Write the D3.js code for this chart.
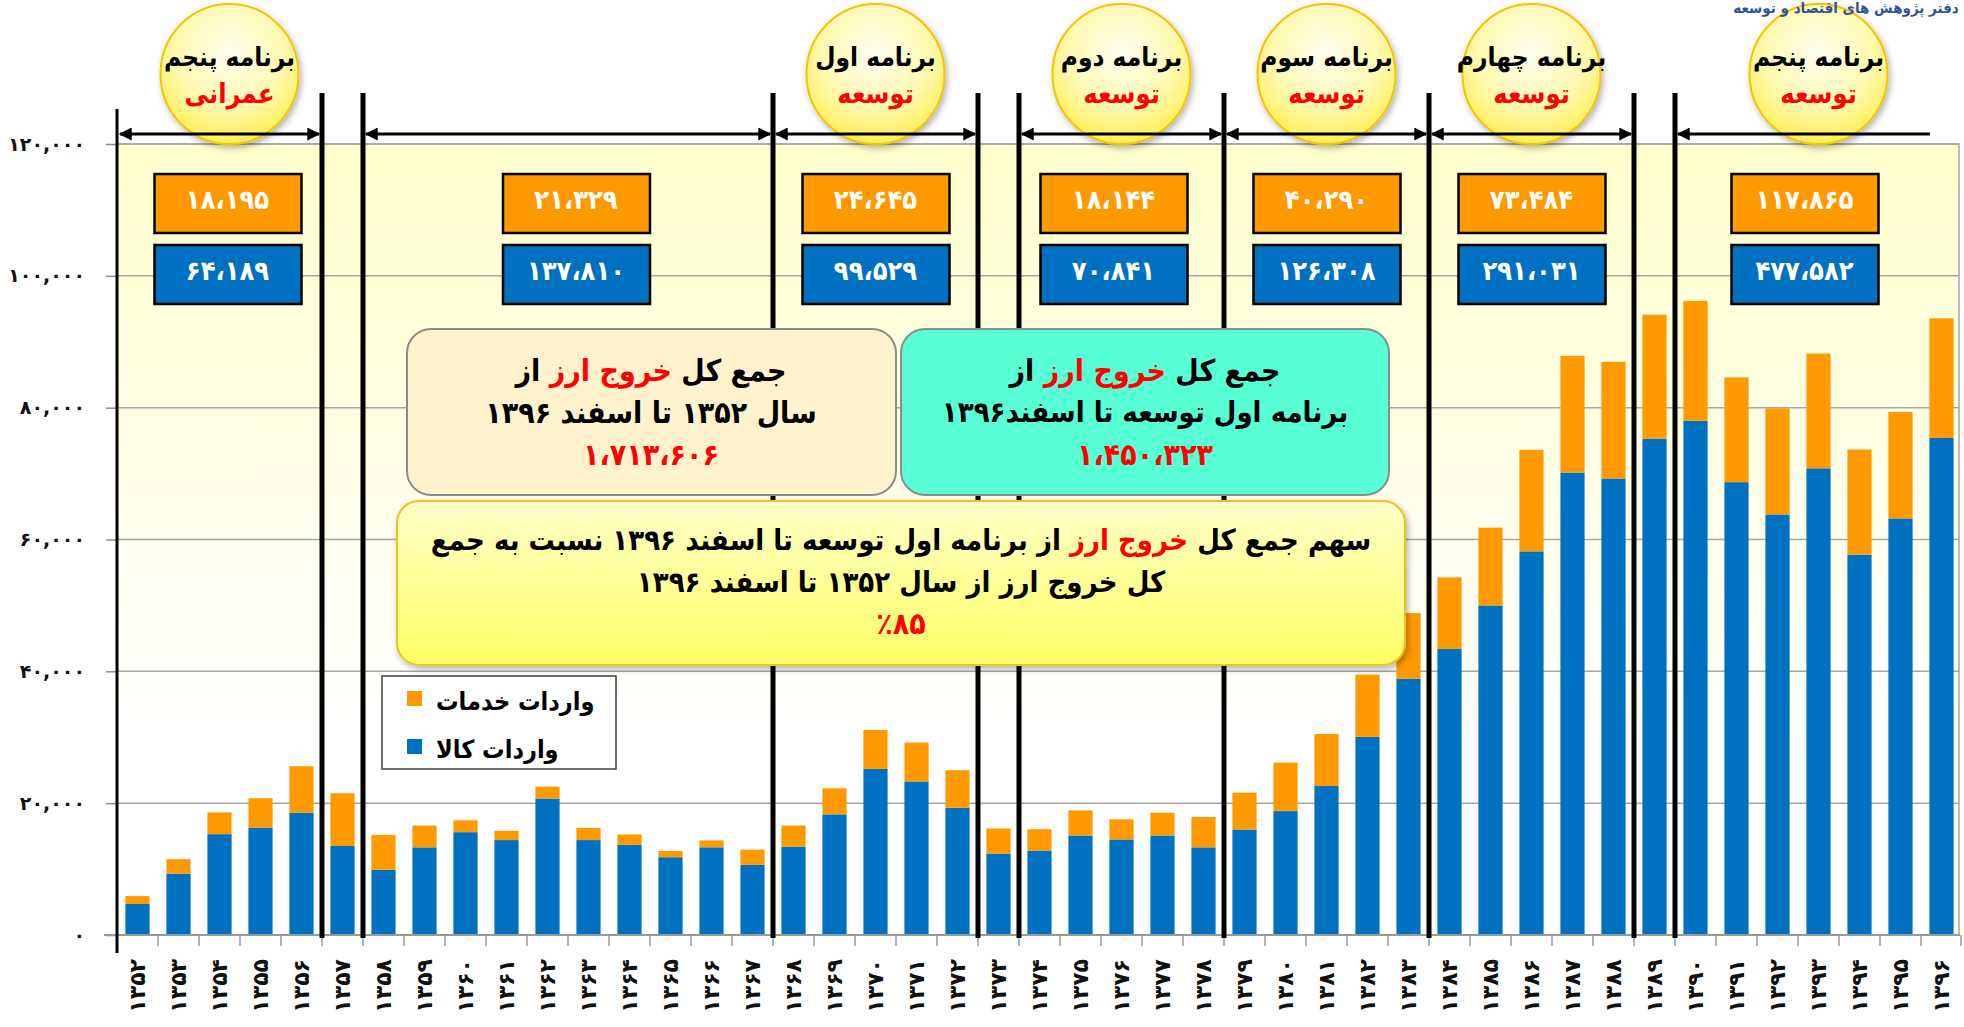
<!DOCTYPE html>
<html>
<head>
<meta charset="utf-8">
<script src="https://cdn.jsdelivr.net/npm/d3@7"></script>
<style>
  body { margin: 0; background: #fff; }
  svg { font-family: "DejaVu Sans Condensed", "DejaVu Sans", sans-serif; font-weight: bold; }
</style>
</head>
<body>
<svg width="1964" height="1027"></svg>
<script>
// years (x categories)
var years = [1352,1353,1354,1355,1356,1357,1358,1359,1360,1361,1362,1363,1364,1365,1366,1367,
  1368,1369,1370,1371,1372,1373,1374,1375,1376,1377,1378,1379,1380,1381,1382,1383,
  1384,1385,1386,1387,1388,1389,1390,1391,1392,1393,1394,1395,1396];

// imports of goods (blue) and services (orange), million $
var goods = [4700,9300,15300,16300,18550,13500,9900,13300,15600,14400,20700,14400,13700,11800,13300,10650,
  13400,18300,25200,23300,19300,12350,12800,15100,14500,15100,13300,16000,18800,22600,30050,38850,
  43400,50000,58200,70150,69250,75300,78000,68700,63800,70800,57700,63200,75400];
var services = [1200,2200,3300,4450,7050,8000,5300,3300,1800,1400,1800,1850,1550,950,1050,2300,
  3200,3950,5900,5900,5700,3800,3250,3800,3050,3450,4600,5600,7350,7900,9450,9990,
  10850,11800,15400,17700,17700,18800,18200,15900,16100,17400,15950,16150,18150];

var yTicks = [0, 20000, 40000, 60000, 80000, 100000, 120000];

// plan periods
var planStart = [1352, 1358, 1368, 1374, 1379, 1384, 1390];
var planEnd   = [1356, 1367, 1372, 1378, 1383, 1388, 1396];
var planName  = ["برنامه پنجم", "", "برنامه اول", "برنامه دوم", "برنامه سوم", "برنامه چهارم", "برنامه پنجم"];
var planKind  = ["عمرانی", "", "توسعه", "توسعه", "توسعه", "توسعه", "توسعه"];
var planGoods    = [64189, 137810, 99529, 70841, 126308, 291031, 477582];
var planServices = [18195, 21329, 24645, 18144, 40290, 73484, 117865];

var dividers = [1357, 1358, 1368, 1373, 1374, 1379, 1384, 1389, 1390];

var blue = "#0070c0", orange = "#ff9900";

var svg = d3.select("svg");

var x = d3.scaleBand().domain(years).range([117, 1962])
  .paddingInner(0.41).paddingOuter(0.205);
var y = d3.scaleLinear().domain([0, 120000]).range([935, 144]);

function fa(s) {
  return String(s).replace(/\d/g, function(d) { return "۰۱۲۳۴۵۶۷۸۹"[d]; });
}
// left edge of a year's slot
function edge(yr) { return x(yr) - x.step() * x.paddingInner() / 2; }
function planEdgeEnd(i) { return edge(planEnd[i]) + x.step(); }

var defs = svg.append("defs");
var bg = defs.append("linearGradient").attr("id", "bg").attr("x1", 0).attr("y1", 0).attr("x2", 0).attr("y2", 1);
bg.append("stop").attr("offset", "0%").attr("stop-color", "#ffffcc");
bg.append("stop").attr("offset", "75%").attr("stop-color", "#ffffff");

var sun = defs.append("radialGradient").attr("id", "sun").attr("cx", "50%").attr("cy", "35%").attr("r", "65%");
sun.append("stop").attr("offset", "0%").attr("stop-color", "#fffff0");
sun.append("stop").attr("offset", "60%").attr("stop-color", "#fff9b0");
sun.append("stop").attr("offset", "100%").attr("stop-color", "#ffee55");

var note = defs.append("linearGradient").attr("id", "note").attr("x1", 0).attr("y1", 0).attr("x2", 0).attr("y2", 1);
note.append("stop").attr("offset", "0%").attr("stop-color", "#ffffc8");
note.append("stop").attr("offset", "100%").attr("stop-color", "#ffff66");

var sh = defs.append("filter").attr("id", "shadow").attr("x", "-10%").attr("y", "-10%").attr("width", "130%").attr("height", "130%");
sh.append("feDropShadow").attr("dx", 2).attr("dy", 3).attr("stdDeviation", 3)
  .attr("flood-color", "#000").attr("flood-opacity", 0.3);

defs.append("marker").attr("id", "ah").attr("viewBox", "0 0 10 10")
  .attr("refX", 9).attr("refY", 5).attr("markerWidth", 15).attr("markerHeight", 13)
  .attr("markerUnits", "userSpaceOnUse").attr("orient", "auto-start-reverse")
  .append("path").attr("d", "M0,0 L10,5 L0,10 Z").attr("fill", "#000");

// plot background
svg.append("rect")
  .attr("x", 117).attr("y", y(120000))
  .attr("width", 1959 - 117).attr("height", y(0) - y(120000))
  .attr("fill", "url(#bg)").attr("stroke", "#a6a6a6").attr("stroke-width", 1.5);

// gridlines
svg.append("g").selectAll("line")
  .data(yTicks.filter(function(d) { return d > 0; }))
  .enter().append("line")
  .attr("x1", 117).attr("x2", 1959)
  .attr("y1", function(d) { return y(d); }).attr("y2", function(d) { return y(d); })
  .attr("stroke", "#a6a6a6").attr("stroke-width", 1.5);

// y axis
var yAxis = svg.append("g")
  .attr("transform", "translate(117,0)")
  .call(d3.axisLeft(y).tickValues(yTicks).tickSize(11).tickPadding(21)
    .tickFormat(function(d) { return fa(d3.format(",")(d)); }));
yAxis.select(".domain").remove();
yAxis.selectAll(".tick line").attr("stroke", "#8c8c8c").attr("stroke-width", 1.5);
yAxis.selectAll(".tick text")
  .attr("font-size", 19).attr("fill", "#111")
  .attr("font-family", "DejaVu Sans").attr("font-weight", "bold");

// bars
svg.append("g").selectAll("rect")
  .data(years).enter().append("rect")
  .attr("x", function(d) { return x(d); })
  .attr("width", x.bandwidth())
  .attr("y", function(d, i) { return y(goods[i]); })
  .attr("height", function(d, i) { return y(0) - y(goods[i]); })
  .attr("fill", blue);
svg.append("g").selectAll("rect")
  .data(years).enter().append("rect")
  .attr("x", function(d) { return x(d); })
  .attr("width", x.bandwidth())
  .attr("y", function(d, i) { return y(goods[i] + services[i]); })
  .attr("height", function(d, i) { return y(goods[i]) - y(goods[i] + services[i]); })
  .attr("fill", orange);

// x baseline and slot ticks
svg.append("line").attr("x1", 104).attr("x2", 1960)
  .attr("y1", y(0)).attr("y2", y(0))
  .attr("stroke", "#999").attr("stroke-width", 2);
svg.append("g").selectAll("line")
  .data(years.slice(1).concat([null])).enter().append("line")
  .attr("x1", function(d) { return d === null ? 1961 : edge(d); })
  .attr("x2", function(d) { return d === null ? 1961 : edge(d); })
  .attr("y1", y(0)).attr("y2", y(0) + 11)
  .attr("stroke", "#999").attr("stroke-width", 1.5);

// x labels
var xAxis = svg.append("g")
  .attr("transform", "translate(0," + y(0) + ")")
  .call(d3.axisBottom(x).tickSize(0).tickFormat(fa));
xAxis.select(".domain").remove();
xAxis.selectAll(".tick text")
  .attr("transform", "rotate(-90)")
  .attr("x", -24).attr("y", 0).attr("dy", "0.35em")
  .style("text-anchor", "end")
  .attr("font-size", 22).attr("letter-spacing", 1)
  .attr("fill", "#111").attr("font-family", "DejaVu Sans").attr("font-weight", "bold");

// y axis line
svg.append("line").attr("x1", 117).attr("x2", 117).attr("y1", 109).attr("y2", 953)
  .attr("stroke", "#000").attr("stroke-width", 3);

// plan dividers
svg.append("g").selectAll("line")
  .data(dividers).enter().append("line")
  .attr("x1", function(d) { return edge(d); }).attr("x2", function(d) { return edge(d); })
  .attr("y1", 93).attr("y2", 938)
  .attr("stroke", "#000").attr("stroke-width", 5);

// plan circles
var circ = svg.append("g").selectAll("g")
  .data(planStart.map(function(d, i) { return i; }).filter(function(i) { return planName[i]; }))
  .enter().append("g")
  .attr("transform", function(i) {
    var cx = (edge(planStart[i]) + planEdgeEnd(i)) / 2 + (i === 0 ? 10 : 0);
    return "translate(" + cx + ",74)";
  });
circ.append("ellipse").attr("rx", 69).attr("ry", 70)
  .attr("fill", "url(#sun)").attr("stroke", "#f5c400").attr("stroke-width", 2)
  .attr("filter", "url(#shadow)");
circ.append("text").attr("y", -17).attr("dy", "0.35em").attr("text-anchor", "middle")
  .attr("direction", "rtl").attr("font-size", 26).attr("fill", "#000")
  .text(function(i) { return planName[i]; });
circ.append("text").attr("y", 20).attr("dy", "0.35em").attr("text-anchor", "middle")
  .attr("direction", "rtl").attr("font-size", 27).attr("fill", "#ff0000")
  .text(function(i) { return planKind[i]; });

// arrows
svg.append("g").selectAll("line")
  .data(planStart.map(function(d, i) { return i; })).enter().append("line")
  .attr("x1", function(i) { return edge(planStart[i]) + 3; })
  .attr("x2", function(i) { return i === 6 ? 1930 : planEdgeEnd(i) - 3; })
  .attr("y1", 134).attr("y2", 134)
  .attr("stroke", "#000").attr("stroke-width", 3)
  .attr("marker-start", "url(#ah)")
  .attr("marker-end", function(i) { return i === 6 ? null : "url(#ah)"; });

// plan totals boxes
var fmt = function(v) { return fa(d3.format(",")(v).replace(/,/g, "،")); };
var boxes = svg.append("g").selectAll("g")
  .data(planStart.map(function(d, i) { return i; })).enter().append("g")
  .attr("transform", function(i) {
    var cx = (edge(planStart[i]) + planEdgeEnd(i)) / 2;
    var off = [8, 8, 0, -8, 0, 0, -14][i];
    return "translate(" + (cx + off) + ",0)";
  });
boxes.append("rect").attr("x", -73).attr("y", 174).attr("width", 147).attr("height", 59)
  .attr("fill", orange).attr("stroke", "#000").attr("stroke-width", 2.5);
boxes.append("rect").attr("x", -73).attr("y", 245).attr("width", 147).attr("height", 59)
  .attr("fill", blue).attr("stroke", "#000").attr("stroke-width", 2.5);
boxes.append("text").attr("y", 200).attr("dy", "0.35em").attr("text-anchor", "middle")
  .attr("font-size", 27).attr("fill", "#fff")
  .text(function(i) { return fmt(planServices[i]); });
boxes.append("text").attr("y", 271).attr("dy", "0.35em").attr("text-anchor", "middle")
  .attr("font-size", 27).attr("fill", "#fff")
  .text(function(i) { return fmt(planGoods[i]); });

// note boxes
function noteLine(g, cx, cy, parts, size) {
  var t = g.append("text").attr("x", cx).attr("y", cy).attr("dy", "0.35em")
    .attr("text-anchor", "middle").attr("direction", "rtl").attr("font-size", size);
  parts.forEach(function(p) {
    t.append("tspan").attr("fill", p[1] ? "#ff0000" : "#000").text(p[0]);
  });
}
var notes = svg.append("g");
notes.append("rect").attr("x", 407).attr("y", 329).attr("width", 489).attr("height", 166).attr("rx", 24)
  .attr("fill", "#fff2cc").attr("stroke", "#8c8c8c").attr("stroke-width", 2);
noteLine(notes, 651, 370, [["جمع کل "], ["خروج ارز", 1], [" از"]], 30);
noteLine(notes, 651, 412, [["سال ۱۳۵۲ تا اسفند ۱۳۹۶"]], 30);
noteLine(notes, 651, 454, [["۱،۷۱۳،۶۰۶", 1]], 30);

notes.append("rect").attr("x", 901).attr("y", 329).attr("width", 488).attr("height", 166).attr("rx", 24)
  .attr("fill", "#58ffd4").attr("stroke", "#8c8c8c").attr("stroke-width", 2);
noteLine(notes, 1145, 370, [["جمع کل "], ["خروج ارز", 1], [" از"]], 30);
noteLine(notes, 1145, 412, [["برنامه اول توسعه تا اسفند۱۳۹۶"]], 29);
noteLine(notes, 1145, 454, [["۱،۴۵۰،۳۲۳", 1]], 30);

notes.append("rect").attr("x", 397).attr("y", 501).attr("width", 1008).attr("height", 164).attr("rx", 22)
  .attr("fill", "url(#note)").attr("stroke", "#f2c21a").attr("stroke-width", 2)
  .attr("filter", "url(#shadow)");
noteLine(notes, 901, 540, [["سهم جمع کل "], ["خروج ارز", 1], [" از برنامه اول توسعه تا اسفند ۱۳۹۶ نسبت به جمع"]], 29);
noteLine(notes, 901, 582, [["کل خروج ارز از سال ۱۳۵۲ تا اسفند ۱۳۹۶"]], 29);
noteLine(notes, 901, 623, [["٪۸۵", 1]], 30);

// legend
var legend = svg.append("g");
legend.append("rect").attr("x", 382).attr("y", 676).attr("width", 234).attr("height", 93)
  .attr("fill", "#fff").attr("stroke", "#404040").attr("stroke-width", 1.5);
var legItems = [["واردات خدمات", orange], ["واردات کالا", blue]];
legItems.forEach(function(it, i) {
  legend.append("rect").attr("x", 407).attr("y", 691 + i * 48).attr("width", 15).attr("height", 15)
    .attr("fill", it[1]);
  legend.append("text").attr("x", 436).attr("y", 701 + i * 48).attr("dy", "0.35em")
    .attr("text-anchor", "start").attr("font-size", 25)
    .attr("fill", "#000").text(it[0]);
});

// source note top right
svg.append("text").attr("x", 1846).attr("y", 13).attr("text-anchor", "middle")
  .attr("direction", "rtl").attr("font-size", 15).attr("fill", "#2f5597")
  .text("دفتر پژوهش های اقتصاد و توسعه");
</script>
</body>
</html>
